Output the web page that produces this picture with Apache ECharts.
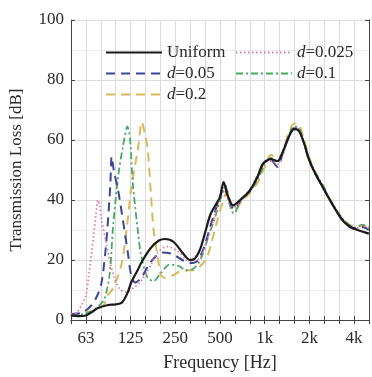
<!DOCTYPE html>
<html><head><meta charset="utf-8">
<script src="https://cdn.jsdelivr.net/npm/echarts@6/dist/echarts.min.js"></script>
<style>html,body{margin:0;padding:0;background:#fff}#c{width:372px;height:377px}</style>
</head><body><div id="c"></div>
<script>
// Frequency tick labels (third-octave band numbers n = 10*log10(f))
const tickBands = [18, 21, 24, 27, 30, 33, 36];
const tickLabels = ['63', '125', '250', '500', '1k', '2k', '4k'];
const seriesNames = ['Uniform', 'd=0.025', 'd=0.05', 'd=0.1', 'd=0.2'];

// [frequency Hz, TL dB]
const uniform = [[50,1.5],[56,1.3],[63,1.5],[70,2.8],[76,4],[89,5],[100,5.2],[110,5.8],[120,9],[127,12.5],[140,16.5],[150,19.5],[172,24],[195,26.5],[215,27],[245,26],[285,22],[315,20],[340,20.5],[370,23.8],[400,29.5],[431,35],[470,38.5],[501,41],[530,46],[560,42],[614,38.2],[700,40.5],[792,43],[900,48],[971,52],[1100,53.6],[1219,53],[1316,55.8],[1450,61],[1573,63.6],[1698,63],[1850,58.5],[1977,53.6],[2200,48.5],[2422,44.8],[2700,40.5],[2970,37],[3300,33.5],[3640,31.5],[4200,30],[4700,29.2],[5000,28.8]];
const d0025 = [[50,2],[55,2.5],[59,5],[63,8],[66,15],[71,28],[74,36],[76,40],[78,38],[80,34],[86,26],[92,19],[98,14],[106,10.5],[118,9.3],[130,10.5],[148,13],[172,18.3],[191,22.5],[222,24.5],[259,23],[301,20],[330,19.5],[370,21],[420,28],[470,36],[501,41],[530,44],[560,41],[620,37.5],[700,40],[800,43.5],[900,48.5],[1000,52.5],[1100,53],[1220,52],[1320,55],[1450,60.5],[1580,64],[1700,63.5],[1850,58],[2000,53],[2200,48.5],[2450,44.5],[2700,40.5],[3000,36.5],[3300,33.5],[3650,31.5],[4100,30.5],[4500,31.5],[5000,30.5]];
const d005 = [[50,2],[60,2.5],[69,5],[75,8],[80,12],[85,22],[89,34],[92,45],[94,54.5],[97,50],[104,43],[112,33],[121,22],[127,15],[135,12.5],[148,14],[165,18],[180,20.5],[205,22.5],[240,22],[280,20],[315,19],[350,19.5],[390,24],[430,31],[470,37],[510,42],[540,45],[570,41],[620,37],[700,40.3],[800,43.5],[900,48],[1000,52.8],[1100,53.2],[1220,51],[1320,55.5],[1450,61],[1580,64],[1700,63.3],[1850,58.2],[2000,53],[2200,48.5],[2450,44.5],[2700,40.5],[3000,36.8],[3300,33.5],[3650,31.3],[4100,30.3],[4500,31],[5000,30]];
const d01 = [[50,1.5],[60,2],[70,3],[78,5],[84,7],[91,15],[96,31],[104,48],[112,58],[120,64.5],[125,60],[130,46],[141,29.5],[148,21.6],[164,14],[180,13],[200,15.5],[230,18.5],[265,18],[300,16.5],[330,17],[370,20],[420,28],[470,35],[510,41],[540,44],[570,40],[620,35.5],[700,40],[800,43],[900,47],[1000,52],[1100,54],[1220,52.5],[1320,55],[1450,61.5],[1580,64.5],[1700,64],[1850,58.5],[2000,53.5],[2200,49],[2450,45],[2700,40.8],[3000,37],[3300,34],[3650,31.8],[4100,30.8],[4500,31.8],[5000,30.8]];
const d02 = [[50,1.5],[63,2.5],[75,3.5],[83,5],[89,8.4],[96,10.6],[109,18.3],[118,29.5],[127,43.7],[141,57],[150,66],[157,62],[164,57],[172,42.6],[180,29.5],[191,21.6],[201,15],[215,14],[245,15],[280,16.5],[330,16.6],[370,18],[407,20.5],[440,26],[480,33],[520,39],[560,43],[600,38],[620,36.5],[700,39.5],[800,42.5],[900,46],[1000,51],[1100,55],[1220,54],[1320,56],[1450,62.5],[1580,65.5],[1700,65],[1850,59.5],[2000,54],[2200,49],[2450,45],[2700,41],[3000,37],[3300,34],[3650,32],[4100,31],[4500,31.5],[5000,30.5]];

const toBand = arr => arr.map(p => [10 * Math.log10(p[0]), p[1]]);
const serif = 'Liberation Serif';
const txt = '#2a2a2a';
const gridCol = '#dcdcdc';

const styles = [
  {color: '#1a1a1a', type: 'solid', width: 2.2},
  {color: '#e27aa8', type: [1.5, 2.5], width: 1.8},
  {color: '#3c4796', type: [9, 6], width: 2},
  {color: '#48a866', type: [7, 3, 2, 3], width: 1.8},
  {color: '#dcb85a', type: [9, 6], width: 2}
];
const datas = [uniform, d0025, d005, d01, d02];

const chart = echarts.init(document.getElementById('c'));
const labelMap = {};
tickBands.forEach((b, i) => labelMap[b] = tickLabels[i]);

const legendFmt = name => name.startsWith('d=') ? '{i|d}{n|' + name.slice(1) + '}' : '{n|' + name + '}';
const legendText = {
  color: txt, fontFamily: serif, fontSize: 17,
  rich: {
    i: {fontFamily: serif, fontStyle: 'italic', fontSize: 17, color: txt},
    n: {fontFamily: serif, fontSize: 17, color: txt}
  }
};
const legendCommon = {orient: 'vertical', top: 39, itemWidth: 56, itemHeight: 12, itemGap: 4, itemTextGap: 3,
  formatter: legendFmt, textStyle: legendText, itemStyle: {opacity: 0}};

chart.setOption({
  animation: false,
  grid: {left: 69, right: 1, top: 20, bottom: 55},
  legend: [
    Object.assign({data: [seriesNames[0], seriesNames[2], seriesNames[4]], left: 100}, legendCommon),
    Object.assign({data: [seriesNames[1], seriesNames[3]], left: 230}, legendCommon)
  ],
  xAxis: [
    {type: 'value', min: 17, max: 37, interval: 1, position: 'bottom',
     name: 'Frequency [Hz]', nameLocation: 'middle', nameGap: 34,
     nameTextStyle: {fontFamily: serif, fontSize: 18, color: txt},
     axisLine: {lineStyle: {color: '#444'}},
     axisTick: {inside: true, length: 4, lineStyle: {color: '#444'}},
     axisLabel: {fontFamily: serif, fontSize: 17, color: txt, margin: 10, showMinLabel: true, showMaxLabel: true,
       formatter: v => labelMap[Math.round(v)] || ''},
     splitLine: {show: true, lineStyle: {color: gridCol, width: 1}}},
    {type: 'value', min: 17, max: 37, interval: 1, position: 'top',
     axisLine: {show: true, lineStyle: {color: '#444'}},
     axisTick: {inside: true, length: 4, lineStyle: {color: '#444'}},
     axisLabel: {show: false}, splitLine: {show: false}}
  ],
  yAxis: [
    {type: 'value', min: 0, max: 100, interval: 20, position: 'left',
     name: 'Transmission Loss [dB]', nameLocation: 'middle', nameGap: 46,
     nameTextStyle: {fontFamily: serif, fontSize: 17, color: txt},
     axisLine: {show: true, lineStyle: {color: '#444'}},
     axisTick: {show: true, inside: true, length: 4, lineStyle: {color: '#444'}},
     axisLabel: {fontFamily: serif, fontSize: 17, color: txt, margin: 7},
     minorTick: {show: false, splitNumber: 2},
     minorSplitLine: {show: true, lineStyle: {color: '#ececec'}},
     splitLine: {show: true, lineStyle: {color: gridCol}}},
    {type: 'value', min: 0, max: 100, interval: 20, position: 'right',
     axisLine: {show: true, lineStyle: {color: '#444'}},
     axisTick: {show: true, inside: true, length: 4, lineStyle: {color: '#444'}},
     axisLabel: {show: false}, splitLine: {show: false}}
  ],
  series: datas.map((d, i) => ({
    name: seriesNames[i], type: 'line', xAxisIndex: 0, yAxisIndex: 0,
    data: toBand(d), smooth: 0.3, symbol: 'none',
    lineStyle: styles[i], itemStyle: {color: styles[i].color},
    z: i === 0 ? 10 : 5 - i
  }))
});
</script></body></html>
